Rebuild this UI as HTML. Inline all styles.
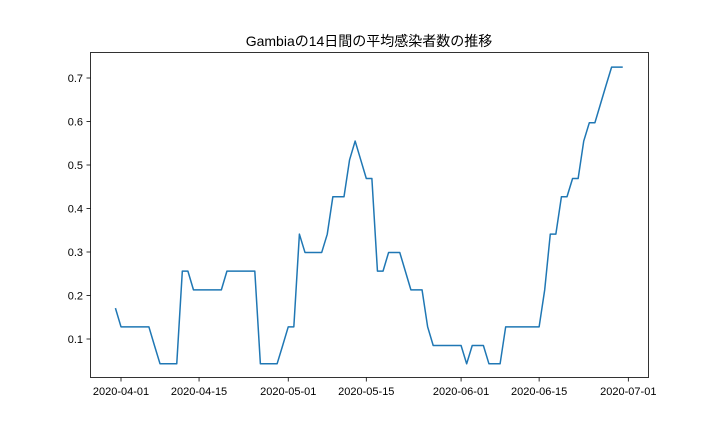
<!DOCTYPE html>
<html><head><meta charset="utf-8"><style>
html,body{margin:0;padding:0;background:#fff;}
svg text{font-family:"Liberation Sans","Noto Sans CJK JP",sans-serif;fill:#000;}
</style></head><body>
<svg id="chart" width="720" height="432" xmlns="http://www.w3.org/2000/svg">
<rect width="720" height="432" fill="#fff"/>
<text x="369" y="46" font-size="14" text-anchor="middle">Gambiaの14日間の平均感染者数の推移</text>
<g id="yticks"></g><g id="xticks"></g>
<path id="line" fill="none" stroke="#1f77b4" stroke-width="1.5" stroke-linejoin="round"/>
<rect x="90.5" y="52.5" width="558" height="325" fill="none" stroke="#000" stroke-width="0.8"/>
</svg>
<script>
const startDay = -1; // days from 2020-04-01
const values = [0.171,0.128,0.128,0.128,0.128,0.128,0.128,0.085,0.043,0.043,0.043,0.043,0.256,0.256,0.213,0.213,0.213,0.213,0.213,0.213,0.256,0.256,0.256,0.256,0.256,0.256,0.043,0.043,0.043,0.043,0.085,0.128,0.128,0.341,0.299,0.299,0.299,0.299,0.341,0.427,0.427,0.427,0.512,0.555,0.512,0.469,0.469,0.256,0.256,0.299,0.299,0.299,0.256,0.213,0.213,0.213,0.128,0.085,0.085,0.085,0.085,0.085,0.085,0.043,0.085,0.085,0.085,0.043,0.043,0.043,0.128,0.128,0.128,0.128,0.128,0.128,0.128,0.213,0.341,0.341,0.427,0.427,0.469,0.469,0.555,0.597,0.597,0.640,0.683,0.725,0.725,0.725];
const yTickValues = [0.1,0.2,0.3,0.4,0.5,0.6,0.7];
const xTickDays = [0,14,30,44,61,75,91];
const xTickLabels = ["2020-04-01","2020-04-15","2020-05-01","2020-05-15","2020-06-01","2020-06-15","2020-07-01"];
function xs(d){return 121+d*5.575;}
function ys(v){return 382.5-v*435;}
const NS="http://www.w3.org/2000/svg";
const yg=document.getElementById('yticks'), xg=document.getElementById('xticks');
yTickValues.forEach(v=>{
  const l=document.createElementNS(NS,'line');
  l.setAttribute('x1',86.5);l.setAttribute('x2',90.5);l.setAttribute('y1',ys(v));l.setAttribute('y2',ys(v));l.setAttribute('stroke','#000');l.setAttribute('stroke-width','0.8');
  
  
  yg.appendChild(l);
  const t=document.createElementNS(NS,'text');
  t.setAttribute('x',83);t.setAttribute('y',ys(v)+4);t.setAttribute('font-size','11');t.setAttribute('text-anchor','end');
  t.textContent=v.toFixed(1);
  
  
  yg.appendChild(t);
});
xTickDays.forEach((d,i)=>{
  const l=document.createElementNS(NS,'line');
  l.setAttribute('x1',xs(d));l.setAttribute('x2',xs(d));l.setAttribute('y1',377.5);l.setAttribute('y2',381.5);l.setAttribute('stroke','#000');l.setAttribute('stroke-width','0.8');
  
  
  xg.appendChild(l);
  const t=document.createElementNS(NS,'text');
  t.setAttribute('x',xs(d));t.setAttribute('y',395);t.setAttribute('font-size','11');t.setAttribute('text-anchor','middle');
  t.textContent=xTickLabels[i];
  
  
  xg.appendChild(t);
});
document.getElementById('line').setAttribute('d',values.map((v,i)=>(i?'L':'M')+xs(startDay+i).toFixed(2)+','+ys(v).toFixed(2)).join(' '));
</script>
</body></html>
